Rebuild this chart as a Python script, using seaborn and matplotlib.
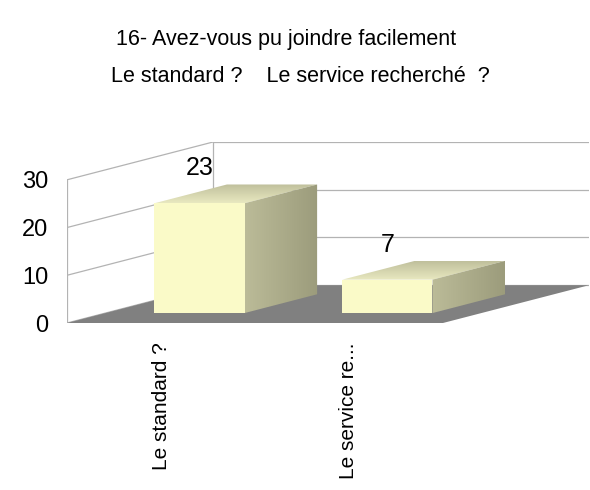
import numpy as np
import pandas as pd
import seaborn as sns
import matplotlib.pyplot as plt
from matplotlib.patches import Polygon
from matplotlib.colors import LinearSegmentedColormap

# donnees
categories = ["Le standard ?", "Le service recherché  ?"]
tick_labels = ["Le standard ?", "Le service re..."]
values = [23, 7]
y_ticks = [0, 10, 20, 30]

title = "16- Avez-vous pu joindre facilement"
subtitle = "Le standard ?    Le service recherché  ?"

sns.set_style("white")
plt.rcParams['font.family'] = ['Liberation Sans', 'DejaVu Sans']
plt.rcParams['text.color'] = 'black'
plt.rcParams['xtick.color'] = 'black'
plt.rcParams['ytick.color'] = 'black'

fig = plt.figure(figsize=(5.9, 4.9), dpi=100)
ax = fig.add_axes([0.1136, 0.3408, 0.8847, 0.3694])

# fausse perspective (profondeur du plancher)
dx, dy = 0.777, 7.92
front_d, back_d = 0.263, 0.76
ymax = max(y_ticks)

df = pd.DataFrame({"cat": categories, "val": values})
sns.barplot(data=df, x="cat", y="val", color="#FAFAC8", saturation=1,
            width=0.48, edgecolor="none", ax=ax, zorder=4)

x0, x1 = -0.5, len(categories) - 0.5

# murs
wall_c = "#B3B3B3"
ax.add_patch(Polygon([(x0, 0), (x0 + dx, dy), (x0 + dx, ymax + dy), (x0, ymax)],
                     facecolor="white", edgecolor="none", zorder=0.5))
for v in y_ticks:
    ax.plot([x0, x0 + dx], [v, v + dy], color=wall_c, lw=0.9, zorder=1)
    ax.plot([x0 + dx, x1 + dx + 0.05], [v + dy, v + dy], color=wall_c, lw=0.9, zorder=1)
ax.plot([x0, x0], [0, ymax], color=wall_c, lw=0.9, zorder=1)
ax.plot([x0 + dx, x0 + dx], [dy, ymax + dy], color=wall_c, lw=0.9, zorder=1)

# plancher
ax.add_patch(Polygon([(x0, 0), (x1, 0), (x1 + dx, dy), (x0 + dx, dy)],
                     facecolor="#808080", edgecolor="none", zorder=2))


def grad_poly(pts, c0, c1, horizontal, z):
    poly = Polygon(pts, closed=True, facecolor="none", edgecolor="none")
    ax.add_patch(poly)
    xs, ys = zip(*pts)
    g = np.linspace(0, 1, 64)
    arr = g[None, :] if horizontal else g[:, None]
    cmap = LinearSegmentedColormap.from_list("g", [c0, c1])
    im = ax.imshow(arr, cmap=cmap, extent=[min(xs), max(xs), min(ys), max(ys)],
                   aspect="auto", origin="lower", zorder=z, interpolation="bilinear")
    im.set_clip_path(poly)


# barres en 3D : on decale la face avant puis on ajoute dessus et cote
bd_x, bd_y = (back_d - front_d) * dx, (back_d - front_d) * dy
for p, v in zip(ax.patches[:len(values)], values):
    p.set_x(p.get_x() + front_d * dx)
    p.set_y(p.get_y() + front_d * dy)
    bx, by, w, h = p.get_x(), p.get_y(), p.get_width(), p.get_height()
    top = [(bx, by + h), (bx + w, by + h), (bx + w + bd_x, by + h + bd_y), (bx + bd_x, by + h + bd_y)]
    side = [(bx + w, by), (bx + w + bd_x, by + bd_y), (bx + w + bd_x, by + h + bd_y), (bx + w, by + h)]
    grad_poly(top, "#E8E8C0", "#C0C09C", False, 4)
    grad_poly(side, "#BBBB98", "#9C9C7C", True, 4)
    ax.annotate(str(v), (bx + w / 2, by + h + bd_y), xytext=(0, 3),
                textcoords="offset points", ha="center", va="bottom", fontsize=18, zorder=6)

ax.set_xlim(x0, x1 + dx)
ax.set_ylim(0, ymax + dy)
ax.set_yticks(y_ticks)
ax.set_yticklabels([str(t) for t in y_ticks])
ax.set_xticks(range(len(tick_labels)))
ax.set_xticklabels(tick_labels, rotation=90)
ax.tick_params(axis="y", length=0, pad=13.5, labelsize=17)
ax.tick_params(axis="x", length=0, pad=14, labelsize=15)
ax.set_xlabel("")
ax.set_ylabel("")
for s in ax.spines.values():
    s.set_visible(False)
ax.patch.set_alpha(0)

fig.text(286 / 590, 1 - 40 / 490, title, ha="center", va="center", fontsize=15.5)
fig.text(300 / 590, 1 - 76 / 490, subtitle, ha="center", va="center", fontsize=15.5)

fig.savefig("out.png", dpi=100)
